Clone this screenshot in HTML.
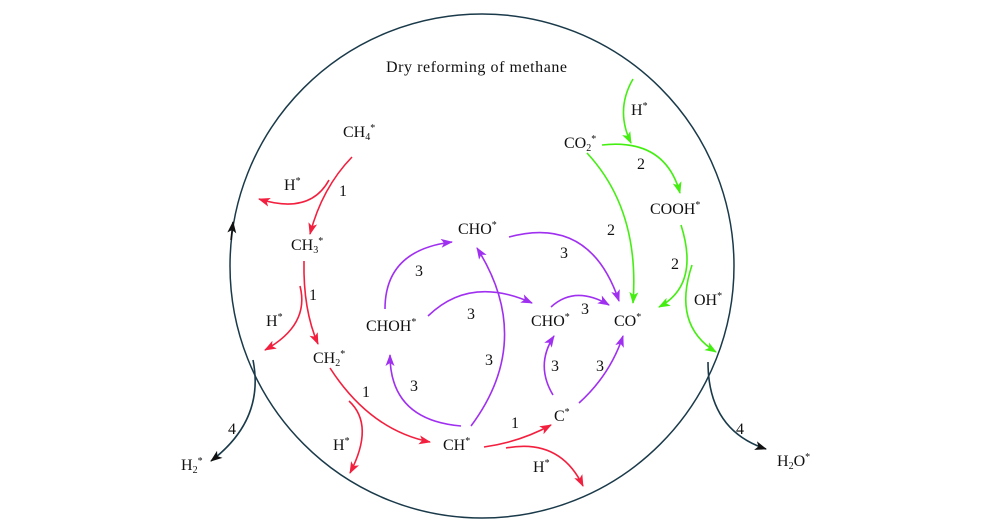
<!DOCTYPE html>
<html><head><meta charset="utf-8"><style>
html,body{margin:0;padding:0;background:#fff;width:1000px;height:522px;overflow:hidden}
svg{display:block}
svg text{font-family:"Liberation Serif","Times New Roman",Times,serif;font-size:16px;fill:#111}
svg .s{font-size:10px}
</style></head><body>
<svg width="1000" height="522" viewBox="0 0 1000 522" xmlns="http://www.w3.org/2000/svg" font-family="Liberation Serif, serif">
<defs>
<marker id="mr" markerWidth="12" markerHeight="9" refX="11" refY="4.5" orient="auto" markerUnits="userSpaceOnUse"><path d="M0,0 L12,4.5 L0,9 L3,4.5z" fill="#f2203e"/></marker>
<marker id="mp" markerWidth="12" markerHeight="9" refX="11" refY="4.5" orient="auto" markerUnits="userSpaceOnUse"><path d="M0,0 L12,4.5 L0,9 L3,4.5z" fill="#a030f0"/></marker>
<marker id="mg" markerWidth="12" markerHeight="9" refX="11" refY="4.5" orient="auto" markerUnits="userSpaceOnUse"><path d="M0,0 L12,4.5 L0,9 L3,4.5z" fill="#44ee11"/></marker>
<marker id="mk" markerWidth="12" markerHeight="9" refX="11" refY="4.5" orient="auto" markerUnits="userSpaceOnUse"><path d="M0,0 L12,4.5 L0,9 L3,4.5z" fill="#111"/></marker>
</defs>
<circle cx="482" cy="266" r="252" fill="none" stroke="#1a3a4a" stroke-width="1.5"/>
<path d="M231,240 L233,222" stroke="#111" stroke-width="1.5" fill="none" marker-end="url(#mk)"/>
<g fill="none" stroke-width="1.6">
<g stroke="#f2203e">
<path d="M352,157 Q322,188 310,234" marker-end="url(#mr)"/>
<path d="M329,180 Q310,215 259,199" marker-end="url(#mr)"/>
<path d="M304,261 Q303,310 318,344" marker-end="url(#mr)"/>
<path d="M300,286 Q310,325 265,350" marker-end="url(#mr)"/>
<path d="M330,368 Q370,430 430,442" marker-end="url(#mr)"/>
<path d="M349,401 Q375,425 350,473" marker-end="url(#mr)"/>
<path d="M484,447 Q520,442 551,425" marker-end="url(#mr)"/>
<path d="M506,448 Q560,438 583,486" marker-end="url(#mr)"/>
</g>
<g stroke="#a030f0">
<path d="M461,426 Q390,420 390,355" marker-end="url(#mp)"/>
<path d="M471,426 Q535,340 477,248" marker-end="url(#mp)"/>
<path d="M385,309 Q385,250 452,242" marker-end="url(#mp)"/>
<path d="M509,237 Q590,215 619,301" marker-end="url(#mp)"/>
<path d="M428,316 Q470,275 532,303" marker-end="url(#mp)"/>
<path d="M551,307 Q575,285 609,305" marker-end="url(#mp)"/>
<path d="M553,395 Q535,365 554,336" marker-end="url(#mp)"/>
<path d="M579,403 Q610,375 623,336" marker-end="url(#mp)"/>
</g>
<g stroke="#44ee11">
<path d="M633,79 Q615,110 631,143" marker-end="url(#mg)"/>
<path d="M602,145 Q665,138 680,193" marker-end="url(#mg)"/>
<path d="M587,153 Q640,210 633,303" marker-end="url(#mg)"/>
<path d="M681,225 Q700,285 659,307" marker-end="url(#mg)"/>
<path d="M692,265 Q672,325 716,352" marker-end="url(#mg)"/>
</g>
<g stroke="#1a3a4a">
<path d="M253,360 Q265,420 211,461" marker-end="url(#mk)"/>
<path d="M708,362 Q708,430 766,449" marker-end="url(#mk)"/>
</g>
</g>
<text x="386" y="72" textLength="181">Dry reforming of methane</text>
<text x="343" y="137">CH<tspan class="s" dy="3">4</tspan><tspan class="s" dy="-9">*</tspan></text>
<text x="291" y="250">CH<tspan class="s" dy="3">3</tspan><tspan class="s" dy="-9">*</tspan></text>
<text x="313" y="363">CH<tspan class="s" dy="3">2</tspan><tspan class="s" dy="-9">*</tspan></text>
<text x="443" y="450">CH<tspan class="s" dy="-6">*</tspan></text>
<text x="554" y="421">C<tspan class="s" dy="-6">*</tspan></text>
<text x="366" y="331">CHOH<tspan class="s" dy="-6">*</tspan></text>
<text x="458" y="234">CHO<tspan class="s" dy="-6">*</tspan></text>
<text x="531" y="326">CHO<tspan class="s" dy="-6">*</tspan></text>
<text x="614" y="326">CO<tspan class="s" dy="-6">*</tspan></text>
<text x="564" y="148">CO<tspan class="s" dy="3">2</tspan><tspan class="s" dy="-9">*</tspan></text>
<text x="650" y="214">COOH<tspan class="s" dy="-6">*</tspan></text>
<text x="631" y="115">H<tspan class="s" dy="-6">*</tspan></text>
<text x="694" y="305">OH<tspan class="s" dy="-6">*</tspan></text>
<text x="284" y="190">H<tspan class="s" dy="-6">*</tspan></text>
<text x="266" y="326">H<tspan class="s" dy="-6">*</tspan></text>
<text x="333" y="450">H<tspan class="s" dy="-6">*</tspan></text>
<text x="533" y="472">H<tspan class="s" dy="-6">*</tspan></text>
<text x="181" y="470">H<tspan class="s" dy="3">2</tspan><tspan class="s" dy="-9">*</tspan></text>
<text x="777" y="466">H<tspan class="s" dy="3">2</tspan><tspan dy="-3">O</tspan><tspan class="s" dy="-6">*</tspan></text>
<g>
<text x="339" y="196">1</text>
<text x="309" y="300">1</text>
<text x="362" y="397">1</text>
<text x="511" y="428">1</text>
<text x="637" y="169">2</text>
<text x="607" y="235">2</text>
<text x="671" y="269">2</text>
<text x="415" y="276">3</text>
<text x="560" y="258">3</text>
<text x="467" y="319">3</text>
<text x="581" y="314">3</text>
<text x="410" y="391">3</text>
<text x="485" y="365">3</text>
<text x="551" y="371">3</text>
<text x="596" y="371">3</text>
<text x="228" y="434">4</text>
<text x="736" y="434">4</text>
</g>
</svg>
</body></html>
